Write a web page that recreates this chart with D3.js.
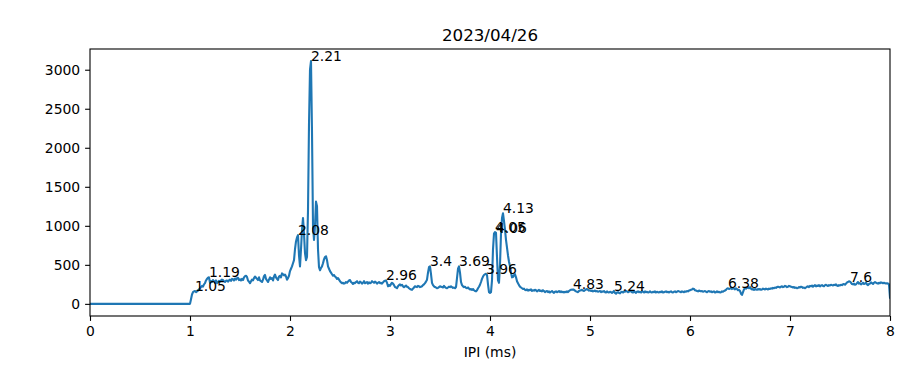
<!DOCTYPE html>
<html>
<head>
<meta charset="utf-8">
<script src="https://cdn.jsdelivr.net/npm/d3@7"></script>
<style>
	body { margin: 0; background: #fff; }
	svg { display: block; font-family: 'DejaVu Sans', sans-serif; }
</style>
</head>
<body>
<div id="chart"></div>
<script>
let title = '2023/04/26';
let xLabel = 'IPI (ms)';

// histogram bins are 0.01 ms wide, from 0 to 8 ms
let binStart = 0;
let binWidth = 0.01;

// counts per bin
let zeros = new Array(101).fill(0); // 0.00 .. 1.00
let counts1 = [
	60, 120, 150, 160, 165, 150, 160, 170, 185,
	200, 215, 230, 220, 250, 265, 300, 320, 335, 340,
	270, 290, 280, 305, 290, 270, 300, 265, 280, 295,
	285, 300, 310, 305, 290, 280, 295, 300, 285, 300,
	310, 295, 320, 315, 300, 325, 310, 330, 335, 305,
	315, 300, 320, 305, 340, 355, 360, 345, 300, 285,
	265, 290, 310, 300, 330, 350, 335, 320, 305, 340,
	300, 290, 280, 310, 355, 370, 320, 300, 280, 310,
	340, 320, 330, 300, 350, 375, 340, 320, 305, 350,
	360, 340, 390, 380, 365, 375, 350, 310, 330, 360
]; // 1.01 .. 1.99
let counts2 = [
	420, 450, 480, 520, 560, 700, 800, 850, 880, 620,
	480, 700, 950, 1100, 900, 650, 560, 600, 1200, 2300,
	3000, 3110, 2200, 1000, 820, 1000, 1310, 1250, 700, 470,
	430, 460, 480, 520, 570, 600, 610, 560, 480, 450,
	420, 400, 380, 360, 370, 350, 340, 320, 330, 310,
	290, 275, 265, 270, 260, 265, 280, 270, 285, 300,
	305, 280, 270, 255, 270, 265, 280, 290, 270, 265,
	285, 275, 260, 270, 290, 265, 270, 280, 260, 275,
	265, 270, 290, 280, 270, 285, 275, 260, 270, 280,
	265, 270, 260, 275, 290, 295, 300, 270, 225, 240
]; // 2.00 .. 2.99
let counts3 = [
	230, 255, 270, 260, 240, 215, 210, 200, 225, 240,
	250, 235, 245, 225, 215, 225, 235, 220, 215, 200,
	190, 185, 180, 195, 210, 225, 220, 215, 230, 225,
	215, 220, 225, 240, 250, 265, 285, 310, 400, 470,
	480, 380, 270, 240, 225, 215, 210, 200, 205, 215,
	225, 220, 215, 210, 230, 215, 205, 200, 210, 220,
	215, 225, 215, 205, 210, 200, 215, 330, 450, 480,
	400, 280, 240, 225, 215, 220, 205, 200, 210, 195,
	185, 190, 180, 190, 175, 165, 160, 175, 200, 220,
	245, 280, 320, 350, 370, 380, 385, 370, 250, 150
]; // 3.00 .. 3.99
let counts4 = [
	140, 150, 300, 700, 900, 920, 910, 600, 300, 270,
	500, 900, 1100, 1160, 1060, 950, 820, 720, 620, 540,
	480, 400, 340, 345, 370, 380, 340, 290, 265, 240,
	220, 210, 200, 190, 195, 180, 175, 185, 170, 180,
	175, 185, 165, 175, 170, 180, 175, 160, 170, 180,
	165, 170, 160, 175, 165, 150, 160, 165, 150, 160,
	145, 155, 165, 150, 140, 155, 160, 150, 155, 165,
	150, 160, 150, 155, 145, 155, 150, 160, 150, 165,
	175, 180, 182, 185, 180, 170, 160, 155, 150, 165,
	170, 175, 180, 170, 165, 175, 185, 190, 180, 170
]; // 4.00 .. 4.99
let counts5 = [
	175, 165, 170, 160, 165, 170, 160, 165, 155, 160,
	165, 150, 160, 155, 165, 150, 145, 160, 150, 145,
	155, 150, 140, 150, 165, 140, 130, 145, 150, 140,
	135, 150, 155, 145, 160, 155, 165, 160, 150, 155,
	165, 160, 150, 145, 160, 150, 140, 155, 160, 150,
	155, 145, 160, 155, 145, 160, 150, 155, 145, 150,
	160, 150, 145, 155, 150, 160, 145, 155, 150, 145,
	155, 150, 160, 145, 150, 155, 160, 150, 155, 145,
	155, 160, 150, 145, 155, 160, 150, 155, 165, 160,
	155, 150, 160, 155, 150, 160, 155, 165, 160, 170
]; // 5.00 .. 5.99
let counts6 = [
	175, 180, 185, 195, 190, 175, 170, 165, 160, 170,
	165, 160, 165, 155, 160, 165, 155, 150, 160, 165,
	155, 160, 150, 155, 160, 145, 150, 160, 150, 155,
	145, 150, 160, 155, 165, 170, 180, 195, 200, 190,
	195, 205, 190, 200, 195, 185, 200, 190, 175, 180,
	165, 130, 115, 150, 185, 200, 195, 205, 210, 200,
	215, 195, 185, 190, 180, 190, 185, 180, 190, 185,
	190, 180, 185, 195, 190, 185, 195, 190, 185, 195,
	190, 200, 195, 205, 200, 210, 205, 215, 220, 215,
	210, 220, 225, 215, 220, 230, 225, 215, 220, 230
]; // 6.00 .. 6.99
let counts7 = [
	225, 220, 215, 210, 215, 205, 210, 200, 205, 215,
	210, 220, 215, 205, 210, 200, 210, 220, 225, 215,
	230, 225, 235, 220, 230, 240, 225, 235, 230, 240,
	225, 235, 240, 230, 225, 240, 245, 235, 230, 240,
	235, 245, 240, 235, 245, 240, 250, 235, 230, 240,
	235, 245, 240, 250, 255, 245, 260, 275, 280, 290,
	285, 270, 255, 250, 260, 245, 250, 265, 280, 260,
	265, 250, 260, 270, 255, 260, 275, 250, 240, 255,
	260, 275, 265, 255, 270, 280, 270, 265, 260, 270,
	265, 275, 270, 265, 270, 265, 260, 265, 260, 250
]; // 7.00 .. 7.99
let counts8 = [80]; // 8.00

let counts = zeros.concat(counts1, counts2, counts3, counts4, counts5, counts6, counts7, counts8);

// peaks that are labelled on the chart
let peakLabels = ['1.05', '1.19', '2.08', '2.21', '2.96', '3.4', '3.69', '3.96', '4.05', '4.06', '4.13', '4.83', '5.24', '6.38', '7.6'];

let xTicks = [0, 1, 2, 3, 4, 5, 6, 7, 8];
let yTicks = [0, 500, 1000, 1500, 2000, 2500, 3000];

let width = 900,
	height = 366;
let margin = { top: 49, right: 10, bottom: 50, left: 90 };

function binIndex(x) {
	return Math.round((x - binStart) / binWidth);
}

function drawChart() {
	let points = counts.map((c, i) => ({ x: binStart + i * binWidth, y: c }));

	let svg = d3.select('#chart').append('svg').attr('width', width).attr('height', height);

	let x = d3
		.scaleLinear()
		.domain([0, 8])
		.range([margin.left, width - margin.right]);

	// matplotlib style 5% padding around the data
	let yMin = d3.min(counts),
		yMax = d3.max(counts);
	let pad = (yMax - yMin) * 0.05;
	let y = d3
		.scaleLinear()
		.domain([yMin - pad, yMax + pad])
		.range([height - margin.bottom, margin.top]);

	let plot = svg.append('g');
	plot.append('clipPath')
		.attr('id', 'clip')
		.append('rect')
		.attr('x', margin.left)
		.attr('y', margin.top)
		.attr('width', width - margin.left - margin.right)
		.attr('height', height - margin.top - margin.bottom);

	let line = d3
		.line()
		.x((d) => x(d.x))
		.y((d) => y(d.y));

	plot.append('path')
		.datum(points)
		.attr('clip-path', 'url(#clip)')
		.attr('d', line)
		.attr('fill', 'none')
		.attr('stroke', '#1f77b4')
		.attr('stroke-width', 2.1)
		.attr('stroke-linejoin', 'round')
		.attr('stroke-linecap', 'square');

	// peak annotations, text starts at the peak itself
	plot.selectAll('text.peak')
		.data(peakLabels)
		.enter()
		.append('text')
		.attr('class', 'peak')
		.attr('x', (d) => x(+d))
		.attr('y', (d) => y(counts[binIndex(+d)]))
		.attr('font-size', 13.9)
		.attr('fill', '#000')
		.text((d) => d);

	let xAxis = svg
		.append('g')
		.attr('transform', 'translate(0,' + (height - margin.bottom) + ')')
		.call(d3.axisBottom(x).tickValues(xTicks).tickFormat(d3.format('d')).tickSize(4.9).tickPadding(4.9));

	let yAxis = svg
		.append('g')
		.attr('transform', 'translate(' + margin.left + ',0)')
		.call(d3.axisLeft(y).tickValues(yTicks).tickFormat(d3.format('d')).tickSize(4.9).tickPadding(4.9));

	[xAxis, yAxis].forEach((a) => {
		a.select('.domain').remove();
		a.selectAll('line').attr('stroke', '#000').attr('stroke-width', 1.1);
		a.selectAll('text').attr('font-size', 13.9).attr('fill', '#000').attr('font-family', 'DejaVu Sans');
	});

	// frame
	svg.append('rect')
		.attr('x', margin.left)
		.attr('y', margin.top)
		.attr('width', width - margin.left - margin.right)
		.attr('height', height - margin.top - margin.bottom)
		.attr('fill', 'none')
		.attr('stroke', '#000')
		.attr('stroke-width', 1.1);

	svg.append('text')
		.attr('x', (margin.left + width - margin.right) / 2)
		.attr('y', margin.top - 8)
		.attr('text-anchor', 'middle')
		.attr('font-size', 16.7)
		.text(title);

	svg.append('text')
		.attr('x', (margin.left + width - margin.right) / 2)
		.attr('y', height - margin.bottom + 41)
		.attr('text-anchor', 'middle')
		.attr('font-size', 13.9)
		.text(xLabel);
}

drawChart();
</script>
</body>
</html>
